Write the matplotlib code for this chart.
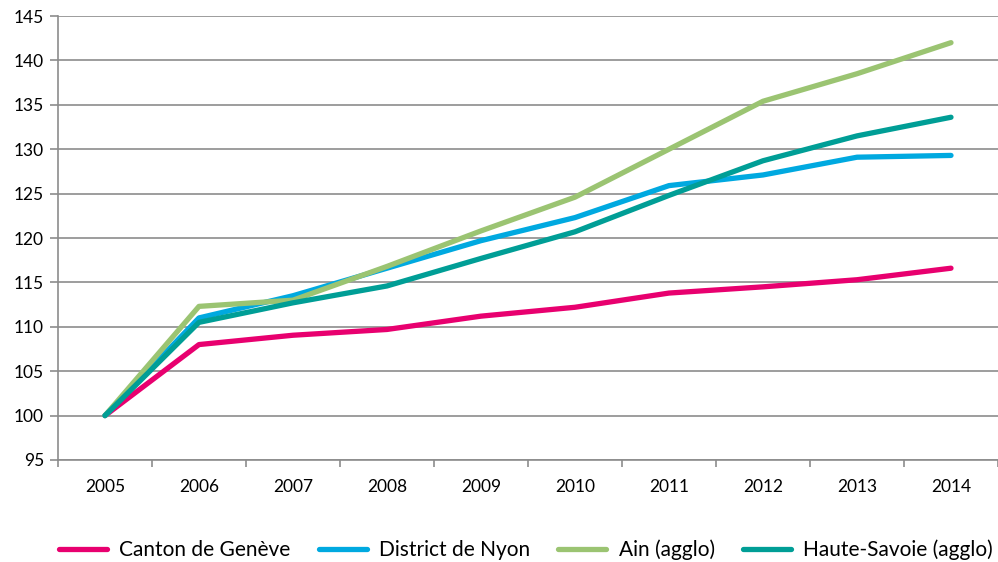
import matplotlib.pyplot as plt

plt.rcParams['font.family'] = ['Lato', 'DejaVu Sans']

years = ['2005', '2006', '2007', '2008', '2009', '2010', '2011', '2012', '2013', '2014']
geneve = [100, 108.0, 109.05, 109.7, 111.2, 112.2, 113.8, 114.5, 115.3, 116.6]
nyon = [100, 111.0, 113.5, 116.6, 119.7, 122.3, 125.9, 127.1, 129.1, 129.3]
ain = [100, 112.3, 113.0, 116.8, 120.8, 124.6, 130.0, 135.4, 138.5, 142.0]
haute_savoie = [100, 110.5, 112.7, 114.6, 117.7, 120.7, 124.8, 128.7, 131.5, 133.6]

series = [
    ('Canton de Genève', geneve, '#E8006F'),
    ('District de Nyon', nyon, '#00A9E0'),
    ('Ain (agglo)', ain, '#9BC472'),
    ('Haute-Savoie (agglo)', haute_savoie, '#009E96'),
]

fig = plt.figure(figsize=(9.98, 5.62), dpi=100)
ax = fig.add_axes([0.0581, 0.1815, 0.9419, 0.79])

x = list(range(len(years)))
for name, vals, col in series:
    ax.plot(x, vals, color=col, lw=3.8, label=name, solid_capstyle='round',
            solid_joinstyle='round')

ax.set_ylim(95, 145)
ax.set_yticks(range(95, 146, 5))
ax.set_xlim(-0.5, 9.42)
ax.set_xticks(x)
ax.set_xticklabels(years)
ax.set_xticks([i - 0.5 for i in range(len(years) + 1)], minor=True)
ax.tick_params(axis='x', which='major', length=0, pad=14, labelsize=12.5)
ax.tick_params(axis='x', which='minor', length=5, color='#8c8c8c', width=1.2)
ax.tick_params(axis='y', length=6, color='#8c8c8c', width=1.2, labelsize=12.5, pad=4)
ax.grid(axis='y', color='#8c8c8c', lw=1.2)
ax.set_axisbelow(True)
for s in ['top', 'right']:
    ax.spines[s].set_visible(False)
for s in ['left', 'bottom']:
    ax.spines[s].set_color('#8c8c8c')
    ax.spines[s].set_linewidth(1.2)

fig.legend(loc='center', bbox_to_anchor=(0.527, 0.022), ncol=4, frameon=False,
           fontsize=15, handlelength=2.3, handletextpad=0.6, columnspacing=1.35)

fig.savefig('out.png', dpi=100)
